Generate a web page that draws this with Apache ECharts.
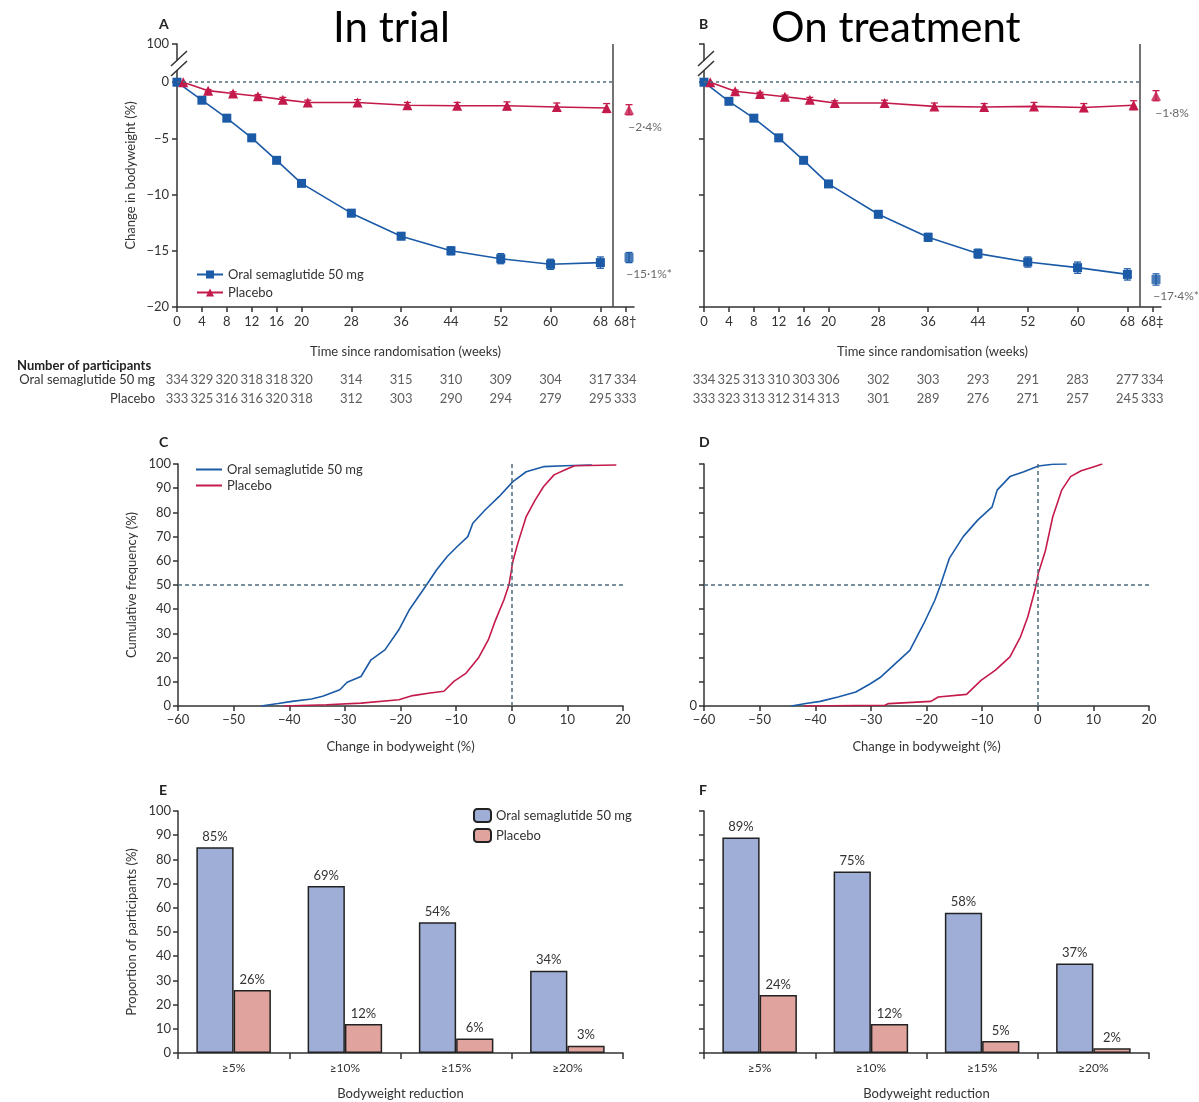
<!DOCTYPE html>
<html><head><meta charset="utf-8">
<script src="https://cdn.jsdelivr.net/npm/echarts@6/dist/echarts.min.js"></script>
<style>html,body{margin:0;padding:0;background:#fff}#c{width:1199px;height:1102px}</style>
</head><body><div id="c"></div><script>
// ---------- DATA ----------
const semaLabel = 'Oral semaglutide 50 mg';
const placeboLabel = 'Placebo';
const weeksSema = [0,4,8,12,16,20,28,36,44,52,60,68];
const weeksPlacebo = [1,5,9,13,17,21,29,37,45,53,61,69];
const endWeek = 73.4;
const endPointWeek = 72.6;
const weekTicks = [0,4,8,12,16,20,28,36,44,52,60,68,72];
const weekTickLabelsA = ['0','4','8','12','16','20','28','36','44','52','60','68','68†'];
const weekTickLabelsB = ['0','4','8','12','16','20','28','36','44','52','60','68','68‡'];
const changeTicks = [-20,-15,-10,-5,0];

// Panel A (in trial)
const aSema = [0,-1.6,-3.2,-4.95,-6.95,-9.0,-11.65,-13.7,-15.0,-15.7,-16.2,-16.05];
const aSemaErr = [0,0.1,0.15,0.2,0.2,0.2,0.3,0.3,0.35,0.45,0.45,0.5];
const aSemaEnd = -15.6, aSemaEndErr = 0.45, aSemaEndText = '−15·1%*';
const aPlacebo = [0,-0.75,-1.0,-1.25,-1.55,-1.8,-1.8,-2.05,-2.1,-2.1,-2.2,-2.3];
const aPlaceboErr = [0,0.1,0.15,0.15,0.2,0.2,0.25,0.25,0.3,0.35,0.35,0.4];
const aPlaceboEnd = -2.45, aPlaceboEndErr = 0.45, aPlaceboEndText = '−2·4%';

// Panel B (on treatment)
const bSema = [0,-1.7,-3.2,-4.95,-6.95,-9.05,-11.75,-13.8,-15.25,-16.0,-16.5,-17.1];
const bSemaErr = [0,0.1,0.15,0.2,0.2,0.2,0.3,0.35,0.4,0.45,0.5,0.5];
const bSemaEnd = -17.55, bSemaEndErr = 0.5, bSemaEndText = '−17·4%*';
const bPlacebo = [0,-0.8,-1.05,-1.3,-1.55,-1.85,-1.85,-2.15,-2.2,-2.15,-2.25,-2.05];
const bPlaceboErr = [0,0.1,0.15,0.15,0.2,0.2,0.25,0.3,0.3,0.35,0.35,0.4];
const bPlaceboEnd = -1.2, bPlaceboEndErr = 0.45, bPlaceboEndText = '−1·8%';

// Number of participants
const tableWeeks = [0,4,8,12,16,20,28,36,44,52,60,68,72];
const nA_sema    = [334,329,320,318,318,320,314,315,310,309,304,317,334];
const nA_placebo = [333,325,316,316,320,318,312,303,290,294,279,295,333];
const nB_sema    = [334,325,313,310,303,306,302,303,293,291,283,277,334];
const nB_placebo = [333,323,313,312,314,313,301,289,276,271,257,245,333];

// Panel C cumulative distribution [change %, cumulative %]
const cSema = [[-45.1,0],[-42,1],[-39.5,1.9],[-36,2.9],[-34,4],[-30.9,6.7],[-29.6,9.8],[-27.1,12.2],[-25.3,19.1],[-22.8,23.2],[-20.3,31.5],[-18.4,39.8],[-15.3,50.1],[-13.5,56.3],[-11.6,61.8],[-9.8,65.9],[-7.9,70],[-7,75.5],[-4.8,81],[-2.3,86.5],[0.2,92.7],[2.6,96.8],[5.7,98.9],[9.5,99.3],[14.4,99.6]];
const cPlacebo = [[-41,0],[-33.3,0.5],[-27.1,1.2],[-20.3,2.6],[-17.8,4.3],[-14.7,5.4],[-12.2,6.1],[-10.4,10.2],[-8.2,13.6],[-6,19.8],[-4.2,27.4],[-2.9,35.6],[-1.4,43.9],[-0.5,50.1],[0.2,59.7],[1.1,67.3],[2.6,78.3],[4.2,85.1],[5.7,90.6],[7.6,95.5],[9.5,97.5],[11.3,99.3],[18.8,99.6]];
// Panel D
const dSema = [[-44.3,0],[-41.7,1],[-39.1,1.9],[-35.9,3.7],[-32.7,5.8],[-30.1,9.2],[-28.2,12],[-25.6,17.5],[-23,23],[-20.5,34],[-18.5,43.7],[-17.5,49.9],[-15.9,61],[-13.4,70],[-10.8,76.8],[-8.2,82.3],[-7.3,89.2],[-5,94.8],[-2.5,96.8],[0.1,99.2],[2.7,99.9],[5.2,100]];
const dPlacebo = [[-42,0],[-27.5,0.3],[-26.8,1],[-19.2,1.9],[-17.9,3.7],[-12.8,4.8],[-10.2,10.6],[-7.6,14.8],[-5,20.3],[-3.1,28.6],[-1.8,36.8],[-0.5,47.9],[0.1,54.8],[1.4,64.4],[2.7,78.2],[4.3,89.2],[5.9,94.8],[7.8,97.2],[9.7,98.6],[11.6,100]];

// Panels E/F
const reductionCats = ['≥5%','≥10%','≥15%','≥20%'];
const eSema = [85,69,54,34];
const ePlacebo = [26,12,6,3];
const fSema = [89,75,58,37];
const fPlacebo = [24,12,5,2];

// ---------- STYLE ----------
const FONT = 'Lato, "Noto Sans", sans-serif';
const BLUE = '#1b5aa6', RED = '#c41a4b';
const AX = '#333';
const minus = v => (v < 0 ? '−' + (-v) : String(v));
const axisLineS = {show:true, onZero:false, lineStyle:{color:AX, width:1.5}};
const tickS = {show:true, length:5, lineStyle:{color:AX, width:1.5}};
const labS = {color:'#333', fontSize:13, fontFamily:FONT};
const nameS = {color:'#333', fontSize:13, fontFamily:FONT};

const chart = echarts.init(document.getElementById('c'), null, {renderer:'canvas'});

function errRender(params, api) {
  const x = api.value(0), lo = api.value(1), hi = api.value(2);
  if (hi - lo <= 0) return null;
  const p1 = api.coord([x, hi]), p2 = api.coord([x, lo]);
  const w = 3.5;
  const st = {stroke: api.visual('color'), lineWidth: 1.3};
  return {type:'group', children:[
    {type:'line', shape:{x1:p1[0],y1:p1[1],x2:p2[0],y2:p2[1]}, style:st},
    {type:'line', shape:{x1:p1[0]-w,y1:p1[1],x2:p1[0]+w,y2:p1[1]}, style:st},
    {type:'line', shape:{x1:p2[0]-w,y1:p2[1],x2:p2[0]+w,y2:p2[1]}, style:st}
  ]};
}
const pairs = (xs, ys) => xs.map((x,i)=>[x, ys[i]]);
const errs = (xs, ys, es) => xs.map((x,i)=>[x, ys[i]-es[i], ys[i]+es[i]]);

function timeAxis(gi, labels) {
  return {gridIndex:gi, type:'value', min:0, max:endWeek,
        axisLine:axisLineS, splitLine:{show:false},
        axisTick:Object.assign({customValues:weekTicks}, tickS),
        axisLabel:Object.assign({customValues:weekTicks, margin:8,
          formatter:v=>labels[weekTicks.indexOf(v)] ?? ''}, labS),
        name:'Time since randomisation (weeks)', nameLocation:'middle', nameGap:38, nameTextStyle:nameS};
}

function timeSeries(gi, sema, semaErr, semaEnd, semaEndErr, semaEndText, plac, placErr, placEnd, placEndErr, placEndText, tag) {
  return [
    {name:'sema'+tag, type:'line', xAxisIndex:gi, yAxisIndex:gi, data:pairs(weeksSema, sema),
     symbol:'rect', symbolSize:9, lineStyle:{color:BLUE, width:1.6}, itemStyle:{color:BLUE}, z:3,
     markLine:{silent:true, symbol:'none', label:{show:false}, animation:false,
       data:[
         [{coord:[0,0], lineStyle:{type:[3,3], color:'#4d6b7c', width:1.5}}, {coord:[70,0]}],
         [{xAxis:70, yAxis:-20, lineStyle:{type:'solid', color:'#444', width:1.5}}, {xAxis:70, yAxis:3.4}]
       ]}},
    {name:'semaErr'+tag, type:'custom', xAxisIndex:gi, yAxisIndex:gi, renderItem:errRender,
     data:errs(weeksSema, sema, semaErr).concat([[endPointWeek, semaEnd-semaEndErr, semaEnd+semaEndErr]]),
     encode:{x:0, y:[1,2]}, itemStyle:{color:BLUE}, z:2},
    {name:'semaEnd'+tag, type:'scatter', xAxisIndex:gi, yAxisIndex:gi, data:[[endPointWeek, semaEnd]],
     symbol:'rect', symbolSize:9, itemStyle:{color:BLUE},
     label:{show:true, position:'bottom', distance:6, offset:[20,0], formatter:semaEndText, color:'#444', fontSize:12, fontFamily:FONT}},
    {name:'placebo'+tag, type:'line', xAxisIndex:gi, yAxisIndex:gi, data:pairs(weeksPlacebo, plac),
     symbol:'triangle', symbolSize:10, lineStyle:{color:RED, width:1.6}, itemStyle:{color:RED}, z:3},
    {name:'placeboErr'+tag, type:'custom', xAxisIndex:gi, yAxisIndex:gi, renderItem:errRender,
     data:errs(weeksPlacebo, plac, placErr).concat([[endPointWeek, placEnd-placEndErr, placEnd+placEndErr]]),
     encode:{x:0, y:[1,2]}, itemStyle:{color:RED}, z:2},
    {name:'placeboEnd'+tag, type:'scatter', xAxisIndex:gi, yAxisIndex:gi, data:[[endPointWeek, placEnd]],
     symbol:'triangle', symbolSize:10, itemStyle:{color:RED},
     label:{show:true, position:'bottom', distance:6, offset:[16,0], formatter:placEndText, color:'#444', fontSize:12, fontFamily:FONT}}
  ];
}

function tableSeries(gi, semaN, placN) {
  const lab = {show:true, position:'inside', formatter:p=>p.value[2], color:'#333', fontSize:13, fontFamily:FONT};
  return [
    {name:'nSema'+gi, type:'scatter', xAxisIndex:gi, yAxisIndex:gi, symbolSize:1, itemStyle:{color:'rgba(0,0,0,0)'},
     data:tableWeeks.map((w,i)=>[w, semaLabel, semaN[i]]), label:lab, silent:true},
    {name:'nPlac'+gi, type:'scatter', xAxisIndex:gi, yAxisIndex:gi, symbolSize:1, itemStyle:{color:'rgba(0,0,0,0)'},
     data:tableWeeks.map((w,i)=>[w, placeboLabel, placN[i]]), label:lab, silent:true}
  ];
}

const grids = [
  {left:177, top:44, width:457, height:263},       // 0 A
  {left:177, top:370, width:457, height:39},       // 1 A table
  {left:178, top:464, width:445, height:242},      // 2 C
  {left:704, top:464, width:445, height:242},      // 3 D
  {left:178, top:811, width:445, height:242},      // 4 E
  {left:704, top:811, width:445, height:242},      // 5 F
  {left:704, top:44, width:457, height:263},       // 6 B
  {left:704, top:370, width:457, height:39}        // 7 B table
];

const yChange = (gi, showLab) => ({gridIndex:gi, type:'value', min:-20, max:3.4,
  axisLine:axisLineS, splitLine:{show:false},
  axisTick:Object.assign({customValues:changeTicks.concat([3.4])}, tickS),
  axisLabel:Object.assign({show:showLab, customValues:changeTicks.concat([3.4]), margin:8,
     formatter:v=> v > 1 ? '100' : minus(v)}, labS),
  name: showLab ? 'Change in bodyweight (%)' : '', nameLocation:'middle', nameGap:40, nameRotate:90, nameTextStyle:nameS});

const xChange = gi => ({gridIndex:gi, type:'value', min:-60, max:20, interval:10,
  axisLine:axisLineS, axisTick:tickS, splitLine:{show:false},
  axisLabel:Object.assign({formatter:minus, margin:7}, labS),
  name:'Change in bodyweight (%)', nameLocation:'middle', nameGap:34, nameTextStyle:nameS});
const yCum = (gi, showLab) => ({gridIndex:gi, type:'value', min:0, max:100, interval:10,
  axisLine:axisLineS, axisTick:tickS, splitLine:{show:false},
  axisLabel:Object.assign({formatter:v=> showLab ? String(v) : (v===0 ? '0' : ''), margin:7}, labS),
  name: showLab ? 'Cumulative frequency (%)' : '', nameLocation:'middle', nameGap:40, nameTextStyle:nameS});
const xCat = gi => ({gridIndex:gi, type:'category', data:reductionCats,
  axisLine:axisLineS, axisTick:Object.assign({}, tickS, {alignWithLabel:false, length:6}), splitLine:{show:false},
  axisLabel:Object.assign({margin:9}, labS, {fontSize:12}),
  name:'Bodyweight reduction', nameLocation:'middle', nameGap:34, nameTextStyle:nameS});
const yProp = (gi, showLab) => ({gridIndex:gi, type:'value', min:0, max:100, interval:10,
  axisLine:axisLineS, axisTick:tickS, splitLine:{show:false},
  axisLabel:Object.assign({show:showLab, margin:7}, labS),
  name: showLab ? 'Proportion of participants (%)' : '', nameLocation:'middle', nameGap:40, nameTextStyle:nameS});

const tableX = gi => ({gridIndex:gi, type:'value', min:0, max:endWeek, show:false});
const tableY = (gi, showLab) => ({gridIndex:gi, type:'category', inverse:true, data:[semaLabel, placeboLabel],
  axisLine:{show:false}, axisTick:{show:false},
  axisLabel:Object.assign({show:showLab, margin:22}, labS)});

const xAxes = [
  timeAxis(0, weekTickLabelsA), tableX(1), xChange(2), xChange(3), xCat(4), xCat(5),
  timeAxis(6, weekTickLabelsB), tableX(7)
];
const yAxes = [
  yChange(0, true), tableY(1, true), yCum(2, true), yCum(3, false), yProp(4, true), yProp(5, false),
  yChange(6, false), tableY(7, false)
];

const dash = {type:[4,3], color:'#4d6b7c', width:1.5};
function cdfSeries(gi, sema, plac, tag) {
  return [
    {name:'sema'+tag, type:'line', xAxisIndex:gi, yAxisIndex:gi, data:sema, symbol:'none',
     lineStyle:{color:BLUE, width:1.6}, itemStyle:{color:BLUE}, z:3,
     markLine:{silent:true, symbol:'none', label:{show:false}, animation:false, lineStyle:dash,
       data:[{yAxis:50}, {xAxis:0}]}},
    {name:'placebo'+tag, type:'line', xAxisIndex:gi, yAxisIndex:gi, data:plac, symbol:'none',
     lineStyle:{color:RED, width:1.6}, itemStyle:{color:RED}, z:3}
  ];
}
function barSeries(gi, sema, plac, tag) {
  const lab = {show:true, position:'top', distance:4, formatter:'{c}%', color:'#333', fontSize:13, fontFamily:FONT};
  return [
    {name:'sema'+tag, type:'bar', xAxisIndex:gi, yAxisIndex:gi, data:sema, barWidth:'33.5%', barGap:'0%',
     itemStyle:{color:'#9eaed6', borderColor:'#222', borderWidth:1.5}, label:lab},
    {name:'placebo'+tag, type:'bar', xAxisIndex:gi, yAxisIndex:gi, data:plac, barWidth:'33.5%', barGap:'0%',
     itemStyle:{color:'#e1a39d', borderColor:'#222', borderWidth:1.5}, label:lab}
  ];
}

const series = [].concat(
  timeSeries(0, aSema, aSemaErr, aSemaEnd, aSemaEndErr, aSemaEndText, aPlacebo, aPlaceboErr, aPlaceboEnd, aPlaceboEndErr, aPlaceboEndText, 'A'),
  tableSeries(1, nA_sema, nA_placebo),
  cdfSeries(2, cSema, cPlacebo, 'C'),
  cdfSeries(3, dSema, dPlacebo, 'D'),
  barSeries(4, eSema, ePlacebo, 'E'),
  barSeries(5, fSema, fPlacebo, 'F'),
  timeSeries(6, bSema, bSemaErr, bSemaEnd, bSemaEndErr, bSemaEndText, bPlacebo, bPlaceboErr, bPlaceboEnd, bPlaceboEndErr, bPlaceboEndText, 'B'),
  tableSeries(7, nB_sema, nB_placebo)
);

const legendFmt = n => n.indexOf('sema') === 0 ? semaLabel : placeboLabel;
const legTxt = {color:'#333', fontSize:13, fontFamily:FONT};
const legends = [
  {data:['semaA','placeboA'], left:191, top:263, orient:'vertical', itemGap:5, itemWidth:26, itemHeight:10,
   formatter:legendFmt, textStyle:legTxt, selectedMode:false},
  {data:[{name:'semaC', icon:'rect'},{name:'placeboC', icon:'rect'}], left:191, top:458, orient:'vertical', itemGap:3, itemWidth:26, itemHeight:2,
   formatter:legendFmt, textStyle:legTxt, selectedMode:false},
  {data:['semaE','placeboE'], left:468, top:803, orient:'vertical', itemGap:5, itemWidth:17, itemHeight:13,
   formatter:legendFmt, textStyle:legTxt, selectedMode:false}
];

const letter = (t, x, y) => ({text:t, left:x, top:y, textStyle:{fontSize:14, fontWeight:'bold', color:'#222', fontFamily:FONT}});
const titles = [
  {text:'In trial', left:328, top:2, textStyle:{fontSize:42, fontWeight:'normal', color:'#000', fontFamily:FONT}},
  {text:'On treatment', left:766, top:2, textStyle:{fontSize:42, fontWeight:'normal', color:'#000', fontFamily:FONT}},
  letter('A', 154, 12), letter('B', 694, 12), letter('C', 154, 430), letter('D', 694, 430),
  letter('E', 154, 778), letter('F', 694, 778),
  {text:'Number of participants', left:12, top:354, textStyle:{fontSize:13, fontWeight:'bold', color:'#222', fontFamily:FONT}}
];

// axis break marks (decoration)
function breakMarks(x) {
  return [
    {type:'rect', shape:{x:x-3, y:61, width:6, height:9}, style:{fill:'#fff'}, z:100},
    {type:'line', shape:{x1:x-6, y1:66, x2:x+10, y2:51}, style:{stroke:AX, lineWidth:1.5}, z:101},
    {type:'line', shape:{x1:x-6, y1:76, x2:x+10, y2:61}, style:{stroke:AX, lineWidth:1.5}, z:101}
  ];
}

chart.setOption({
  animation:false,
  backgroundColor:'#fff',
  textStyle:{fontFamily:FONT},
  title:titles,
  legend:legends,
  grid:grids,
  xAxis:xAxes,
  yAxis:yAxes,
  series:series,
  graphic:breakMarks(177).concat(breakMarks(704))
});
</script></body></html>
